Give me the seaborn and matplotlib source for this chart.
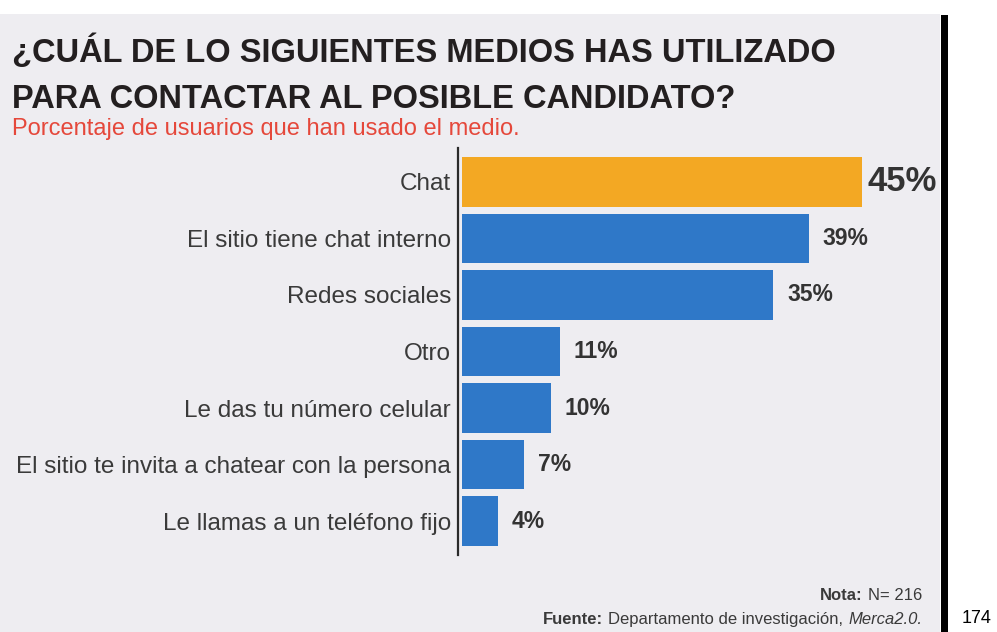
import matplotlib
matplotlib.use('Agg')
import matplotlib.pyplot as plt
import seaborn as sns
from matplotlib import font_manager
from matplotlib.patches import Rectangle

# data
categories = ['Chat', 'El sitio tiene chat interno', 'Redes sociales', 'Otro',
              'Le das tu número celular', 'El sitio te invita a chatear con la persona',
              'Le llamas a un teléfono fijo']
values = [45, 39, 35, 11, 10, 7, 4]
bar_colors = ['#f3a823', '#2f78c8', '#2f78c8', '#2f78c8', '#2f78c8', '#2f78c8', '#2f78c8']

title_lines = ['¿CUÁL DE LO SIGUIENTES MEDIOS HAS UTILIZADO',
               'PARA CONTACTAR AL POSIBLE CANDIDATO?']
subtitle = 'Porcentaje de usuarios que han usado el medio.'

sns.set_style('white')
plt.rcParams['font.family'] = ['Liberation Sans', 'DejaVu Sans']

installed = {f.name for f in font_manager.fontManager.ttflist}
if 'Liberation Sans Narrow' in installed:
    title_font, title_size = 'Liberation Sans Narrow', 28.5
else:
    title_font, title_size = 'Liberation Sans', 23.5

W, H = 997, 632
fig = plt.figure(figsize=(W / 100, H / 100), dpi=100, facecolor='white')

# scanned page background + black page edge
fig.add_artist(Rectangle((0, 0), 940 / W, 618 / H, transform=fig.transFigure,
                         facecolor='#eeedf1', edgecolor='none', zorder=-5))
fig.add_artist(Rectangle((941 / W, 0), 7 / W, 617 / H, transform=fig.transFigure,
                         facecolor='black', edgecolor='none', zorder=-4))

ax = fig.add_axes([458 / W, 1 - 555 / H, 482 / W, 407 / H])
ax.set_facecolor('none')

sns.barplot(x=values, y=categories, hue=categories, palette=bar_colors,
            legend=False, width=0.88, saturation=1, orient='h', ax=ax,
            linewidth=0, edgecolor='none')

ax.set_xlim(-0.45, 53.75)
ax.set_ylim(6.6, -0.6)
ax.set_xlabel('')
ax.set_ylabel('')
ax.set_xticks([])
for s in ['top', 'right', 'bottom']:
    ax.spines[s].set_visible(False)
ax.spines['left'].set_color('#2a2a2a')
ax.spines['left'].set_linewidth(1.6)
ax.tick_params(axis='y', length=0, pad=5, labelsize=17.5, labelcolor='#3a3a3a')

for i, (cont, v) in enumerate(zip(ax.containers, values)):
    if i == 0:
        ax.bar_label(cont, labels=[f'{v}%'], padding=4, fontsize=25,
                     fontweight='bold', color='#333333')
    else:
        ax.bar_label(cont, labels=[f'{v}%'], padding=10, fontsize=16.5,
                     fontweight='bold', color='#333333')

# titles
fig.text(12 / W, 1 - 62 / H, title_lines[0], family=[title_font, 'DejaVu Sans'],
         fontsize=title_size, fontweight='bold', color='#231f20', va='baseline')
fig.text(12 / W, 1 - 108 / H, title_lines[1], family=[title_font, 'DejaVu Sans'],
         fontsize=title_size, fontweight='bold', color='#231f20', va='baseline')
fig.text(12 / W, 1 - 135 / H, subtitle, fontsize=17, color='#e5483b', va='baseline')

# footnotes
fn = dict(fontsize=12, color='#3a3a3a')
n_txt = fig.text(922 / W, 1 - 600 / H, 'N= 216', ha='right', va='baseline', **fn)
ax.annotate('Nota:', xy=(0, 0), xycoords=n_txt, xytext=(-3.5, 0),
            textcoords='offset points', ha='right', va='bottom',
            fontweight='bold', annotation_clip=False, **fn)
m_txt = fig.text(922 / W, 1 - 624 / H, 'Merca2.0.', ha='right', va='baseline',
                 style='italic', **fn)
d_txt = ax.annotate('Departamento de investigación,', xy=(0, 0), xycoords=m_txt,
                    xytext=(-3.5, 0), textcoords='offset points', ha='right',
                    va='bottom', annotation_clip=False, **fn)
ax.annotate('Fuente:', xy=(0, 0), xycoords=d_txt, xytext=(-3.5, 0),
            textcoords='offset points', ha='right', va='bottom',
            fontweight='bold', annotation_clip=False, **fn)

fig.text(977 / W, 1 - 623 / H, '174', ha='center', va='baseline', fontsize=13,
         color='black')

fig.savefig('out.png', dpi=100, facecolor='white')
